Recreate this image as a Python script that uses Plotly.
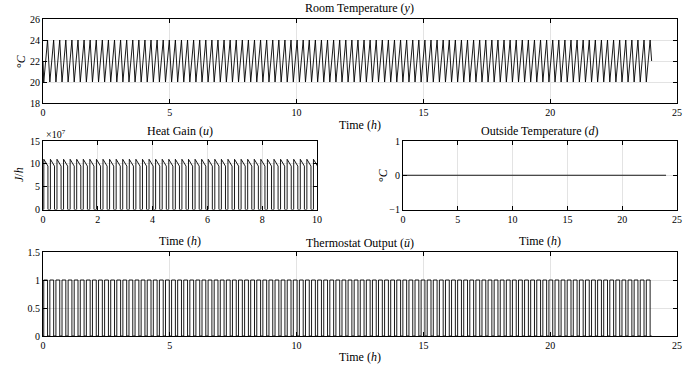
import plotly.graph_objects as go

# ---------------- data ----------------
# heater switch-on times (h): temperature at its low limit
on_times = [
    0.03, 0.27, 0.51, 0.75, 0.99, 1.23, 1.47, 1.71, 1.95, 2.19, 2.43, 2.67, 2.91, 3.15, 3.39, 3.63, 3.87, 4.11, 4.35, 4.59, 4.83, 5.07, 5.31, 5.55, 5.79,
    6.03, 6.27, 6.51, 6.75, 6.99, 7.23, 7.47, 7.71, 7.95, 8.19, 8.43, 8.67, 8.91, 9.15, 9.39, 9.63, 9.87, 10.11, 10.35, 10.59, 10.83, 11.07, 11.31, 11.55, 11.79,
    12.03, 12.27, 12.51, 12.75, 12.99, 13.23, 13.47, 13.71, 13.95, 14.19, 14.43, 14.67, 14.91, 15.15, 15.39, 15.63, 15.87, 16.11, 16.35, 16.59, 16.83, 17.07, 17.31, 17.55, 17.79,
    18.03, 18.27, 18.51, 18.75, 18.99, 19.23, 19.47, 19.71, 19.95, 20.19, 20.43, 20.67, 20.91, 21.15, 21.39, 21.63, 21.87, 22.11, 22.35, 22.59, 22.83, 23.07, 23.31, 23.55, 23.79,
]
# heater switch-off times (h): temperature at its high limit
off_times = [
    0.18, 0.42, 0.66, 0.90, 1.14, 1.38, 1.62, 1.86, 2.10, 2.34, 2.58, 2.82, 3.06, 3.30, 3.54, 3.78, 4.02, 4.26, 4.50, 4.74, 4.98, 5.22, 5.46, 5.70, 5.94,
    6.18, 6.42, 6.66, 6.90, 7.14, 7.38, 7.62, 7.86, 8.10, 8.34, 8.58, 8.82, 9.06, 9.30, 9.54, 9.78, 10.02, 10.26, 10.50, 10.74, 10.98, 11.22, 11.46, 11.70, 11.94,
    12.18, 12.42, 12.66, 12.90, 13.14, 13.38, 13.62, 13.86, 14.10, 14.34, 14.58, 14.82, 15.06, 15.30, 15.54, 15.78, 16.02, 16.26, 16.50, 16.74, 16.98, 17.22, 17.46, 17.70, 17.94,
    18.18, 18.42, 18.66, 18.90, 19.14, 19.38, 19.62, 19.86, 20.10, 20.34, 20.58, 20.82, 21.06, 21.30, 21.54, 21.78, 22.02, 22.26, 22.50, 22.74, 22.98, 23.22, 23.46, 23.70, 23.94,
]
t_start, t_end = 0.0, 24.0
temp_start, temp_end = 22.0, 22.0
temp_low, temp_high = 20.0, 24.0
gain_at_on, gain_at_off = 11.0, 9.5      # x 10^7 J/h
outside_times = [0.0, 24.0]
outside_temp = [0.0, 0.0]

x_ticks_25 = [0, 5, 10, 15, 20, 25]
x_ticks_10 = [0, 2, 4, 6, 8, 10]
temp_ticks = [18, 20, 22, 24, 26]
gain_ticks = [0, 5, 10, 15]
out_ticks = [-1, 0, 1]
thermo_ticks = [0, 0.5, 1, 1.5]
thermo_ticktext = ["0", "0.5", "1", "1.5"]

# ---------------- build series ----------------
temp_t, temp_v = [t_start], [temp_start]
gain_t, gain_v = [t_start], [0.0]
th_t, th_v = [t_start], [0]
for ton, toff in zip(on_times, off_times):
    temp_t += [ton, toff]
    temp_v += [temp_low, temp_high]
    gain_t += [ton, ton, toff, toff]
    gain_v += [0.0, gain_at_on, gain_at_off, 0.0]
    th_t += [ton, ton, toff, toff]
    th_v += [0, 1, 1, 0]
temp_t.append(t_end); temp_v.append(temp_end)
gain_t.append(t_end); gain_v.append(0.0)
th_t.append(t_end); th_v.append(0)

# ---------------- figure ----------------
W, H = 700, 367
def px(x): return x / W
def py(y): return 1 - y / H

FONT = "Liberation Serif, Times New Roman, DejaVu Serif, serif"
line = dict(color="black", width=0.9)
fig = go.Figure()
fig.add_trace(go.Scatter(x=temp_t, y=temp_v, mode="lines", line=line, xaxis="x", yaxis="y"))
fig.add_trace(go.Scatter(x=gain_t, y=gain_v, mode="lines", line=line, xaxis="x2", yaxis="y2"))
fig.add_trace(go.Scatter(x=outside_times, y=outside_temp, mode="lines", line=line, xaxis="x3", yaxis="y3"))
fig.add_trace(go.Scatter(x=th_t, y=th_v, mode="lines", line=line, xaxis="x4", yaxis="y4"))

def ax(domain, rng, ticks, anchor, ticktext=None):
    d = dict(domain=domain, range=rng, tickvals=ticks, anchor=anchor, automargin=False,
             showline=True, linecolor="black", linewidth=1, mirror="allticks",
             ticks="inside", ticklen=4, tickcolor="black", tickwidth=1,
             showgrid=True, gridcolor="#e3e3e3", gridwidth=1, zeroline=False,
             tickfont=dict(family=FONT, size=10, color="black"))
    if ticktext:
        d["ticktext"] = ticktext
    return d

xl, xr = px(43), px(677)
fig.update_layout(
    width=W, height=H, margin=dict(l=0, r=0, t=0, b=0, pad=0, autoexpand=False),
    paper_bgcolor="white", plot_bgcolor="white", showlegend=False,
    font=dict(family=FONT, size=11, color="black"),
    xaxis=ax([xl, xr], [0, 25], x_ticks_25, "y"),
    yaxis=ax([py(103), py(19)], [18, 26], temp_ticks, "x"),
    xaxis2=ax([xl, px(317)], [0, 10], x_ticks_10, "y2"),
    yaxis2=ax([py(209.5), py(141)], [0, 15], gain_ticks, "x2"),
    xaxis3=ax([px(403), xr], [0, 25], x_ticks_25, "y3"),
    yaxis3=ax([py(209.5), py(141)], [-1, 1], out_ticks, "x3"),
    xaxis4=ax([xl, xr], [0, 25], x_ticks_25, "y4"),
    yaxis4=ax([py(336), py(252)], [0, 1.5], thermo_ticks, "x4", thermo_ticktext),
)

def note(text, x, y, size=12, angle=0, xanchor="center"):
    fig.add_annotation(text=text, x=px(x), y=py(y), xref="paper", yref="paper",
                       showarrow=False, textangle=angle, xanchor=xanchor, yanchor="middle",
                       font=dict(family=FONT, size=size, color="black"))

note("Room Temperature (<i>y</i>)", 360, 8)
note("Time (<i>h</i>)", 360, 125)
note("°<i>C</i>", 21, 61, angle=-90)
note("Heat Gain (<i>u</i>)", 180, 131)
note("Time (<i>h</i>)", 180, 241)
note("<i>J</i>/<i>h</i>", 19, 175, angle=-90)
note("×10<sup>7</sup>", 44, 134, size=10, xanchor="left")
note("Outside Temperature (<i>d</i>)", 540, 131)
note("Time (<i>h</i>)", 540, 241)
note("°<i>C</i>", 383, 175, angle=-90)
note("Thermostat Output (<i>ū</i>)", 360, 243)
note("Time (<i>h</i>)", 360, 357)

fig.write_html("out.html", config={"displayModeBar": False},
               post_script="document.body.style.margin='0';document.body.style.padding='0';")
